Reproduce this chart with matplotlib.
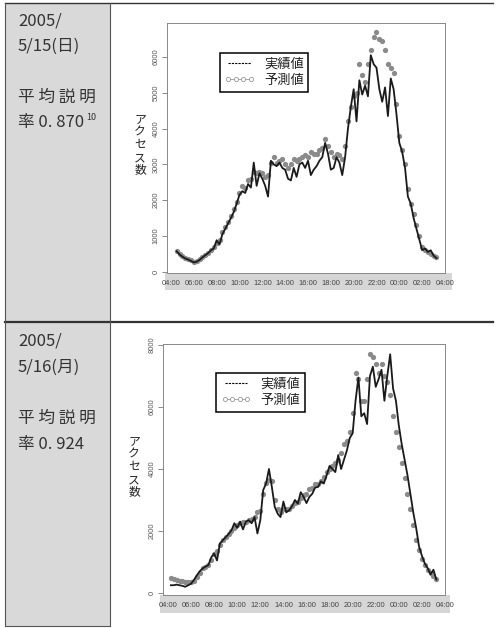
import numpy as np
import matplotlib.pyplot as plt
from matplotlib.lines import Line2D
from matplotlib.patches import Rectangle

plt.rcParams['font.family'] = ['Noto Sans CJK JP', 'DejaVu Sans']

# --- data (access counts every 15 minutes) ---
start1 = 4.5   # 04:30
actual1 = [570, 480, 420, 370, 340, 300, 260, 280, 330, 400, 460, 520, 600, 650, 880, 760,
           1050, 1200, 1350, 1500, 1670, 1900, 2150, 2250, 2200, 2450, 2350, 3050, 2400, 2750,
           2600, 2400, 2100, 3100, 3000, 2950, 3050, 2900, 2850, 2600, 2550, 2900, 2650, 3000,
           3050, 2900, 3100, 2700, 2850, 2950, 3100, 3200, 3600, 3300, 2850, 2900, 3200, 3050,
           2700, 3200, 4000, 4600, 5100, 4200, 5350, 4950, 5200, 4900, 6050, 5800, 5700, 5100,
           4750, 5150, 4350, 5400, 5100, 4400, 3600, 3350, 2900, 2100, 1900, 1500, 1200, 900,
           600, 650, 550, 600, 450, 380]
pred1 = [580, 500, 430, 380, 350, 320, 280, 300, 350, 420, 470, 530, 600, 700, 800, 900,
         1100, 1250, 1400, 1550, 1750, 1950, 2200, 2400, 2350, 2550, 2600, 2800, 2750, 2800,
         2750, 2650, 2700, 3050, 3200, 3050, 3100, 3150, 3000, 2900, 3000, 3150, 3100, 3150,
         3200, 3250, 3200, 3350, 3300, 3300, 3400, 3450, 3700, 3500, 3350, 3200, 3300, 3250,
         3150, 3500, 4200, 4600, 4900, 5000, 5800, 5500, 5300, 5800, 6200, 6550, 6700, 6500,
         6450, 6200, 5800, 5700, 5550, 4700, 3800, 3400, 3000, 2300, 1900, 1600, 1300, 1000,
         700, 600, 550, 500, 450, 400]

start2 = 4.25  # 04:15
actual2 = [250, 250, 270, 250, 230, 200, 250, 300, 420, 570, 700, 790, 850, 900, 1150, 1270,
           1050, 1600, 1700, 1800, 1900, 2020, 2250, 2100, 2300, 2050, 2300, 2350, 2250, 2450,
           1920, 2350, 3320, 3530, 4000, 3420, 2780, 2560, 2450, 2950, 2600, 2670, 2800, 3000,
           2880, 3250, 3100, 2900, 3100, 3200, 3400, 3420, 3600, 3530, 3800, 4100, 4000, 3900,
           4450, 4000, 4300, 4600, 5000, 5150, 6200, 6950, 5700, 5800, 5450, 7000, 7300, 6650,
           6900, 7200, 6200, 7000, 7700, 6600, 6200, 5400, 4800, 4300, 3800, 3200, 2600, 2100,
           1500, 1200, 950, 800, 600, 750, 430]
pred2 = [470, 450, 420, 400, 380, 360, 350, 350, 400, 520, 650, 790, 850, 900, 1050, 1250,
         1350, 1550, 1700, 1800, 1900, 2000, 2100, 2200, 2250, 2300, 2300, 2350, 2400, 2450,
         2600, 2650, 3200, 3550, 3650, 3600, 3000, 2700, 2600, 2700, 2700, 2700, 2800, 2900,
         2950, 3050, 3150, 3200, 3350, 3400, 3500, 3500, 3600, 3750, 3900, 4000, 4100, 4200,
         4300, 4500, 4800, 4900, 5200, 5800, 7100, 6900, 6200, 6200, 6900, 7700, 7600, 7400,
         7100, 7400, 7000, 6800, 6400, 5700, 5200, 4700, 4200, 3700, 3200, 2700, 2200, 1700,
         1400, 1100, 900, 750, 650, 550, 450]

hour_ticks = np.arange(4, 29, 2)
hour_labels = ['%02d:00' % (h % 24) for h in hour_ticks]

row_texts = [
    ['2005/', '5/15(日)', '平 均 説 明', '率 0. 870'],
    ['2005/', '5/16(月)', '平 均 説 明', '率 0. 924'],
]
legend_labels = ['実績値', '予測値']

W, H = 499, 628


def px(l, t, r, b):
    return [l / W, 1 - b / H, (r - l) / W, (b - t) / H]


fig = plt.figure(figsize=(W / 100, H / 100), dpi=100)

# background layer in pixel coordinates: table, gray column, label bands
bg = fig.add_axes([0, 0, 1, 1])
bg.set_xlim(0, W)
bg.set_ylim(H, 0)
bg.axis('off')
bg.add_patch(Rectangle((5, 3), 105, 318, color='#d9d9d9', lw=0))
bg.add_patch(Rectangle((5, 322), 105, 304, color='#d9d9d9', lw=0))
bg.plot([5, 493], [3, 3], color='#333333', lw=1.0)
bg.plot([5, 493], [321.5, 321.5], color='#333333', lw=1.6)
bg.plot([5, 5], [3, 626], color='#555555', lw=0.8)
bg.plot([110, 110], [3, 626], color='#555555', lw=0.8)
bg.plot([5, 110], [626, 626], color='#555555', lw=0.8)
bg.add_patch(Rectangle((165, 273), 287, 17, color='#d6d6d6', lw=0))
bg.add_patch(Rectangle((160, 595), 290, 18, color='#d6d6d6', lw=0))

row_y = [[21, 46, 97, 122], [341, 367, 418, 444]]
for texts, ys in zip(row_texts, row_y):
    for t, y in zip(texts, ys):
        bg.text(18, y, t, fontsize=12, color='#333333', va='center', ha='left')
bg.text(86, 117, '10', fontsize=6.5, color='#333333', va='center', ha='left')

bg.text(140, 145, 'ア\nク\nセ\nス\n数', fontsize=8.5, color='#222222',
        ha='center', va='center', linespacing=0.95)
bg.text(134, 467, 'ア\nク\nセ\nス\n数', fontsize=8.5, color='#222222',
        ha='center', va='center', linespacing=0.95)


def draw(ax, start, actual, pred, ylim, yticks, xlim, leg_anchor):
    t_a = start + 0.25 * np.arange(len(actual))
    t_p = start + 0.25 * np.arange(len(pred))
    ax.plot(t_p, pred, ls='none', marker='o', ms=3.8, mew=0, color='#8a8a8a', zorder=2)
    ax.plot(t_a, actual, color='#1a1a1a', lw=1.3, zorder=3)
    ax.set_xlim(*xlim)
    ax.set_ylim(*ylim)
    ax.set_xticks(hour_ticks)
    ax.set_xticklabels(hour_labels)
    ax.set_yticks(yticks)
    ax.tick_params(axis='x', length=0, pad=5, labelsize=5.4, labelcolor='#444444')
    ax.tick_params(axis='y', length=3.5, width=0.6, color='#777777', pad=2,
                   labelsize=5.4, labelcolor='#555555')
    for lab in ax.get_yticklabels():
        lab.set_rotation(90)
        lab.set_va('center')
    for lab in ax.get_xticklabels() + ax.get_yticklabels():
        lab.set_family(['Liberation Sans Narrow', 'Liberation Sans'])
    for sp in ax.spines.values():
        sp.set_color('#888888')
        sp.set_linewidth(0.7)
    handles = [Line2D([], [], color='black', ls=(0, (2, 1)), lw=0.8),
               Line2D([], [], color='#999999', lw=0.6, marker='o', ms=3,
                      mfc='white', mec='#999999', mew=0.6)]
    leg = ax.legend(handles, legend_labels, loc='upper left', bbox_to_anchor=leg_anchor,
                    borderaxespad=0, fontsize=9.5, handlelength=2.3, handletextpad=0.7,
                    borderpad=0.35, labelspacing=0.25, numpoints=4, fancybox=False,
                    framealpha=1, edgecolor='black')
    leg.get_frame().set_linewidth(1.1)
    for txt in leg.get_texts():
        txt.set_color('#222222')


ax1 = fig.add_axes(px(167, 23, 445, 273))
draw(ax1, start1, actual1, pred1, (-36, 6950), np.arange(0, 6001, 1000),
     (3.65, 27.91), (0.19, 0.88))
ax2 = fig.add_axes(px(163, 344, 445, 595))
draw(ax2, start2, actual2, pred2, (-65, 8032), np.arange(0, 8001, 2000),
     (3.57, 27.98), (0.188, 0.884))

fig.savefig('out.png', dpi=100)
